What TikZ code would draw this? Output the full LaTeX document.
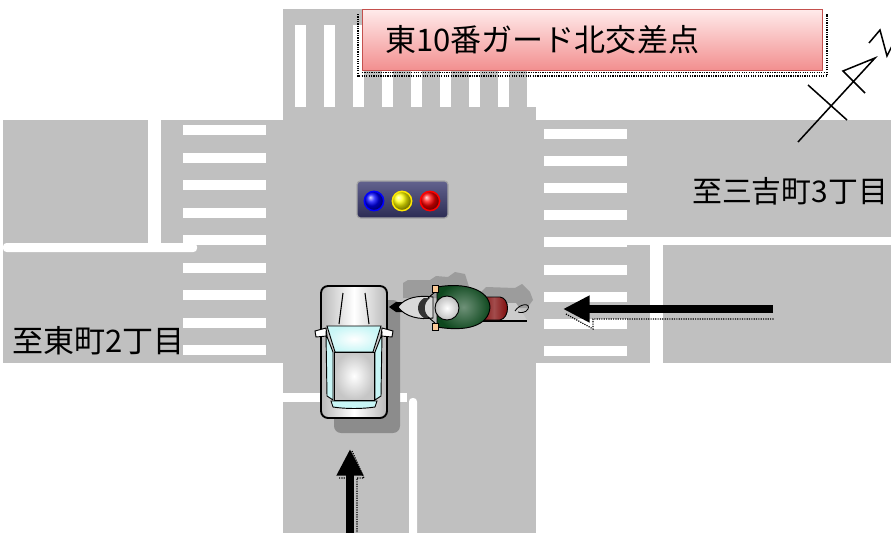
\documentclass[tikz,border=0pt]{standalone}
\usepackage{fontspec}
\newfontfamily\jpfont{Noto Sans CJK JP}
\usetikzlibrary{positioning,arrows.meta,shadings}
\definecolor{roadgray}{RGB}{192,192,192}
\definecolor{shadowgray}{RGB}{140,140,140}
\definecolor{bikeshadow}{RGB}{156,156,156}
\definecolor{titlered}{RGB}{196,80,77}
\definecolor{titletop}{RGB}{255,234,234}
\definecolor{titlebot}{RGB}{242,142,142}
\definecolor{glass}{RGB}{200,246,246}
\definecolor{ridergreen}{RGB}{14,72,30}
\definecolor{seatred}{RGB}{122,0,0}
\definecolor{grip}{RGB}{250,200,150}
\definecolor{paneltop}{RGB}{98,98,142}
\definecolor{panelbot}{RGB}{44,44,84}
\begin{document}
\begin{tikzpicture}[x=0.03cm, y=-0.03cm,
  road/.style={fill=roadgray},
  zebra/.style={fill=white},
  trafficarrow/.style={line width=0.26cm, -{Triangle[length=0.8cm,width=0.76cm]}},
  arrowshadow/.style={densely dotted, line width=1pt},
  signalbox/.style={draw=gray!70, line width=1pt, rounded corners=3pt, top color=paneltop, bottom color=panelbot,
    minimum width=2.73cm, minimum height=1.11cm, inner sep=0pt},
  lamp/.style={circle, minimum size=0.58cm, inner sep=0pt, outer sep=0pt, line width=1.3pt},
  place/.style={font=\jpfont\fontsize{26.5}{26.5}\selectfont, inner sep=0pt, anchor=west},
  part/.style={line width=0.8pt}]
  \useasboundingbox (0,0) rectangle (891,533);
  \fill[road] (3,120) rectangle (891,363);
  \fill[road] (283,9) rectangle (536,533);
  \fill[white] (148,120) rectangle (161,243);
  \fill[white, rounded corners=3pt] (3,243) rectangle (197,252);
  \fill[white] (627,237) rectangle (891,245);
  \fill[white] (650,245) rectangle (663,363);
  \fill[white] (283,393) rectangle (407,402);
  \fill[white, rounded corners=3pt] (409,398) rectangle (417,545);
  \foreach \i in {0,...,8}
    \fill[zebra] (295+29*\i,25) rectangle ++(11,82);
  \foreach \i in {0,...,8}
    \fill[zebra] (183,125+27.5*\i) rectangle ++(83,10);
  \foreach \i in {0,...,8}
    \fill[zebra] (544,129+27.1*\i) rectangle ++(83,10);

  \draw[arrowshadow] (358,14) |- (827,76) -- (827,14);
  \draw[arrowshadow] (362,72.5) -- (824,72.5);
  \node[draw=titlered, line width=1.2pt, top color=titletop, bottom color=titlebot, anchor=north west,
    minimum width=13.8cm, minimum height=1.83cm, inner sep=0pt] (titlebox) at (362,9) {};
  \node[place, right=0.69cm of titlebox.west] (title) {東10番ガード北交差点};

  \node[signalbox] (signal) at (402.5,199.5) {};
  \node[lamp, draw=blue, ball color=blue] (blueLamp) at (374,201) {};
  \node[lamp, draw=yellow!90!orange, ball color=yellow, right=0.26cm of blueLamp] (yellowLamp) {};
  \node[lamp, draw=red, ball color=red, right=0.26cm of yellowLamp] (redLamp) {};

  \fill[bikeshadow] (403,298) -- (403,283) -- (408,280) -- (430,280) -- (436,276) -- (448,277) -- (455,272)
    -- (465,274) -- (470,290) -- (470,298) -- cycle;
  \fill[bikeshadow] (481,308) -- (481,292) -- (486,287) -- (515,288) -- (522,284) -- (530,292) -- (533,300)
    -- (527,308) -- cycle;
  \fill[shadowgray, rounded corners=6pt] (334,300) rectangle (400,433);

  \draw[line width=1.6pt, rounded corners=6pt, left color=gray!55, right color=gray!55, middle color=white]
    (321,286) rectangle (387,418);
  \draw[line width=0.9pt] (343,293) -- (339,324) (365,293) -- (369,324);
  \draw[part, fill=white] (315,331) -- (326,328) -- (327,336) -- (316,337) -- cycle;
  \draw[part, fill=white] (393,331) -- (382,328) -- (381,336) -- (392,337) -- cycle;
  \draw[part, fill=glass] (326,334) -- (333,352) -- (333,400) -- (327,396) -- cycle;
  \draw[part, fill=glass] (382,334) -- (375,352) -- (375,400) -- (381,396) -- cycle;
  \draw[part, inner color=white, outer color=glass] (327,326) -- (381,326) -- (373,352) -- (335,352) -- cycle;
  \draw[part, inner color=white, outer color=gray!45] (334,352) rectangle (374,400);
  \draw[part, fill=glass] (331,401) -- (377,401) -- (375,407) .. controls (362,409) and (346,409) .. (333,407) -- cycle;

  \fill[black] (389,307) -- (396,302) -- (404,302) -- (404,312) -- (396,312) -- cycle;
  \draw[part, fill=gray!30] (398,307) .. controls (405,297) and (420,295) .. (433,297) -- (433,318)
    .. controls (420,320) and (405,317) .. (398,307) -- cycle;
  \fill[gray!40!black] (424,298) .. controls (416,303) and (416,313) .. (424,318) -- (430,318)
    .. controls (423,313) and (423,303) .. (430,298) -- cycle;
  \fill[gray!40] (503,303) -- (516,303) -- (527,320) -- (503,320) -- cycle;
  \draw[line width=1pt] (458,321) -- (527,321);
  \draw[part, left color=seatred, right color=seatred, middle color=seatred!70!white]
    (478,297) -- (500,297) .. controls (510,298) and (510,318) .. (500,320) -- (478,320) -- cycle;
  \draw[part, inner color=ridergreen!60!white, outer color=ridergreen] (437,287) .. controls (466,282) and (489,290) .. (490,307)
    .. controls (489,326) and (466,332) .. (437,327) -- cycle;
  \draw[part] (435,292) -- (428,298) (435,323) -- (428,317);
  \draw[line width=0.5pt, fill=grip] (432,285) rectangle (438,292);
  \draw[line width=0.5pt, fill=grip] (432,323) rectangle (438,330);
  \draw[part, inner color=white, outer color=gray!50] (447,308) circle (12);
  \draw[line width=0.7pt] (515,311) .. controls (520,303) and (531,303) .. (528,309) .. controls (526,313) and (520,313) .. (518,312);

  \coordinate (bikeTail) at (773,309);
  \coordinate (bikeHead) at (563,309);
  \coordinate (carTail) at (350,545);
  \coordinate (carHead) at (350,449);
  \draw[arrowshadow] (566,314) -- (593,329) -- (593,319) -- (774,319);
  \draw[arrowshadow] (352,451) -- (364,478) -- (357,478) -- (357,533) (339,478) -- (346,478);
  \draw[trafficarrow] (bikeTail) -- (bikeHead);
  \draw[trafficarrow] (carTail) -- (carHead);

  \node[place, font=\jpfont\fontsize{25.5}{25.5}\selectfont] (toMiyoshi) at (692,191) {至三吉町3丁目};
  \node[place] (toHigashi) at (12,341) {至東町2丁目};

  \draw[line width=1.3pt] (798,142) -- (875,58) -- (843,71) -- (865,93);
  \draw[line width=1.3pt] (808,85) -- (847,120);
  \draw[line width=1.3pt] (869,43) -- (880,30) -- (887,56) -- (892,46);
\end{tikzpicture}
\end{document}
